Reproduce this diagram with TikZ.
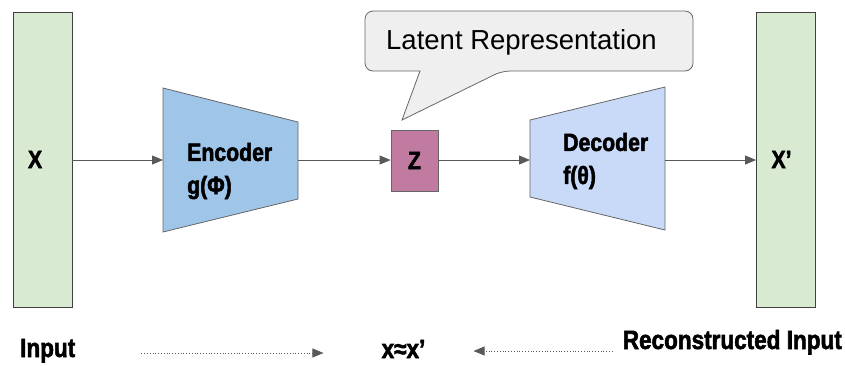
\documentclass[tikz,border=0pt]{standalone}
\usepackage{fontspec}
\setmainfont{Liberation Sans}
\newfontfamily\condfont[FakeStretch=0.85,FakeBold=2]{Liberation Sans}
\usepackage{xcolor}
\usepackage{tikz}
\usetikzlibrary{arrows.meta, positioning}
\definecolor{inputgreen}{HTML}{D9EAD3}
\definecolor{encblue}{HTML}{9FC5E8}
\definecolor{decblue}{HTML}{C9DAF8}
\definecolor{latentpink}{HTML}{C27BA0}
\definecolor{bubblegray}{HTML}{EFEFEF}
\definecolor{linegray}{HTML}{595959}
\definecolor{edgegray}{HTML}{666666}

\begin{document}
\begin{tikzpicture}[x=1pt, y=-1pt,
    databox/.style={draw=black!75, fill=inputgreen, thick, text width=29pt, align=left,
      inner xsep=15pt, minimum height=295pt, font=\condfont\bfseries\fontsize{25}{28}\selectfont},
    flow/.style={linegray, thick, -{Triangle[length=11pt, width=9pt]}},
    hint/.style={linegray, thick, dotted, -{Triangle[length=11pt, width=9pt]}},
    boldlabel/.style={inner sep=0pt, align=left, font=\condfont\bfseries\fontsize{25}{33}\selectfont},
    footlabel/.style={inner sep=0pt, font=\condfont\bfseries\fontsize{26.5}{30}\selectfont}]
    \useasboundingbox (0,0) rectangle (845,365);
    % input and output
    \node[databox] (x) at (42.5,159.5) {X};
    \node[databox] (xr) at (786,159.5) {X’};
    % encoder and decoder
    \draw[thick, draw=edgegray, fill=encblue] (163,88) -- (298,122) -- (298,199) -- (163,232) -- cycle;
    \draw[thick, draw=edgegray, fill=decblue] (530,120) -- (665,87) -- (665,230) -- (530,197) -- cycle;
    \coordinate (encin) at (163,160);
    \coordinate (encout) at (298,160);
    \coordinate (decin) at (530,160);
    \coordinate (decout) at (665,160);
    \node[boldlabel, anchor=west] (enc) at (187,171) {Encoder\\g(Φ)};
    \node[boldlabel, anchor=west] (dec) at (563,161) {Decoder\\f(θ)};
    % latent code
    \node[draw=edgegray, thick, fill=latentpink, minimum width=47pt, minimum height=61pt,
      font=\condfont\bfseries\fontsize{25}{28}\selectfont] (z) at (414.5,160.5) {Z};
    \draw[thick, draw=edgegray, fill=bubblegray, rounded corners=8pt]
      (365,40) |- (693,11) |- (502,71) [sharp corners] -- (402,120) -- (420,71)
      [rounded corners=8pt] -| cycle;
    \node[font=\fontsize{27.5}{30}\selectfont] (latent) at (521.5,42) {Latent Representation};
    % connectors
    \draw[flow] (x.east |- encin) -- (encin);
    \draw[flow] (encout) -- (z.west |- encout);
    \draw[flow] (z.east |- decin) -- (decin);
    \draw[flow] (decout) -- (xr.west |- decout);
    % bottom row
    \node[footlabel, anchor=base west] (input) at (20,357) {Input};
    \node[footlabel, anchor=base] (approx) at (403.5,358) {x≈x’};
    \node[footlabel, anchor=base east] (recon) at (842,349) {Reconstructed Input};
    \draw[hint] ([xshift=66pt, yshift=4pt]input.base east) -- ([xshift=-58pt, yshift=4pt]input.base east -| approx.west);
    \draw[hint] ([xshift=-10pt, yshift=-2pt]recon.base west) -- ([xshift=48pt, yshift=-2pt]recon.base west -| approx.east);
\end{tikzpicture}
\end{document}
